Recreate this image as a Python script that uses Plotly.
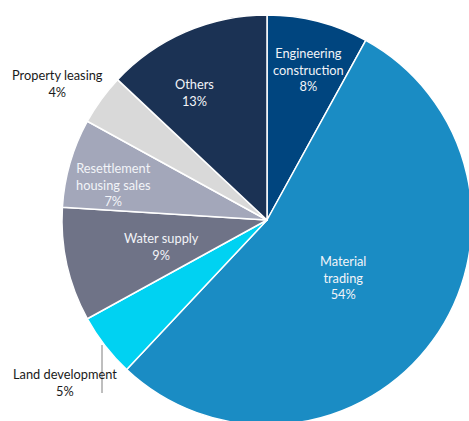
import plotly.graph_objects as go

labels = ["Engineering<br>construction", "Material<br>trading", "Land development",
          "Water supply", "Resettlement<br>housing sales", "Property leasing", "Others"]
values = [8, 54, 5, 9, 7, 4, 13]
colors = ["#00457F", "#1A8CC4", "#00D2F2", "#6F7387", "#A3A7BA", "#D9D9D9", "#1B3254"]

W, H = 480, 432
cx, cy, R = 267, 220, 205

# label anchor pixels (layout only)
label_pos = [(308, 69), (343, 277), (65, 382), (161, 246), (113, 184), (57, 83), (194, 92)]
label_inside = [True, True, False, True, True, False, True]

fig = go.Figure(go.Pie(
    labels=labels, values=values, sort=False, direction="clockwise", rotation=0,
    marker=dict(colors=colors, line=dict(color="white", width=1.5)),
    textinfo="none", hoverinfo="label+percent", showlegend=False,
    domain=dict(x=[(cx - R) / W, (cx + R) / W], y=[1 - (cy + R) / H, 1 - (cy - R) / H]),
))

anns = []
for lab, v, (px, py), ins in zip(labels, values, label_pos, label_inside):
    anns.append(dict(
        text=f"{lab}<br>{v}%", x=px / W, y=1 - py / H, xref="paper", yref="paper",
        xanchor="center", yanchor="middle", showarrow=False, align="center",
        font=dict(family="Lato, sans-serif", size=12.8, color="#F2F4F8" if ins else "#1A1A1A"),
    ))

fig.update_layout(
    width=W, height=H, margin=dict(l=0, r=0, t=0, b=0),
    paper_bgcolor="white", plot_bgcolor="white",
    annotations=anns,
    shapes=[dict(type="line", xref="paper", yref="paper",
                 x0=102 / W, x1=102 / W, y0=1 - 345 / H, y1=1 - 393 / H,
                 line=dict(color="#7F7F7F", width=1))],
)
fig.write_html("out.html")
